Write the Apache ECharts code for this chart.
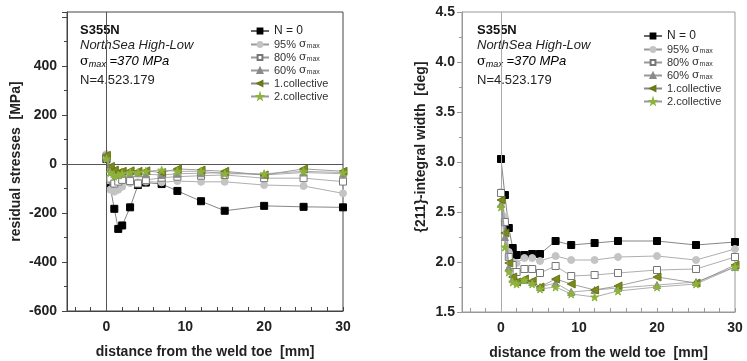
<!DOCTYPE html>
<html>
<head>
<meta charset="utf-8">
<script src="https://cdn.jsdelivr.net/npm/echarts@6/dist/echarts.min.js"></script>
<style>
  html, body { margin: 0; padding: 0; background: #fff; }
  #chart { width: 747px; height: 361px; }
</style>
</head>
<body>
<div id="chart"></div>
<script>
// distances from the weld toe [mm], shared by all series
const distances = [0, 0.5, 1, 1.5, 2, 3, 4, 5, 7, 9, 12, 15, 20, 25, 30];

const seriesNames = ['N = 0', '95% σmax', '80% σmax', '60% σmax', '1.collective', '2.collective'];

// residual stresses [MPa]
const stressN0  = [20, -97, -183, -265, -251, -177, -86, -76, -82, -110, -152, -191, -171, -175, -177];
const stress95  = [40, -105, -113, -105, -93, -78, -75, -72, -75, -70, -73, -73, -86, -90, -120];
const stress80  = [30, -60, -80, -72, -65, -70, -80, -66, -56, -52, -48, -45, -58, -58, -72];
const stress60  = [25, -20, -40, -45, -40, -40, -38, -42, -45, -40, -38, -35, -45, -35, -40];
const stress1c  = [35, -10, -25, -35, -30, -28, -30, -28, -35, -20, -25, -30, -45, -20, -30];
const stress2c  = [20, -35, -50, -45, -40, -35, -35, -30, -25, -30, -30, -40, -40, -30, -35];

// {211}-integral width [deg]
const widthN0 = [3.03, 2.67, 2.34, 2.14, 2.07, 2.07, 2.08, 2.08, 2.21, 2.17, 2.19, 2.21, 2.21, 2.17, 2.20];
const width95 = [2.70, 2.45, 2.10, 2.00, 1.99, 2.04, 2.04, 2.01, 2.06, 2.02, 2.02, 2.05, 2.06, 2.02, 2.13];
const width80 = [2.69, 2.40, 2.05, 1.97, 1.90, 1.93, 1.93, 1.89, 1.96, 1.86, 1.87, 1.89, 1.92, 1.93, 2.05];
const width60 = [2.58, 2.25, 1.95, 1.83, 1.81, 1.82, 1.80, 1.75, 1.79, 1.70, 1.72, 1.74, 1.77, 1.80, 1.95];
const width1c = [2.62, 2.29, 1.99, 1.85, 1.80, 1.83, 1.81, 1.75, 1.83, 1.78, 1.72, 1.76, 1.85, 1.79, 1.97];
const width2c = [2.55, 2.15, 1.90, 1.80, 1.78, 1.82, 1.78, 1.73, 1.75, 1.68, 1.65, 1.71, 1.75, 1.78, 1.95];

// tick labels
const xLabels = [0, 10, 20, 30];
const xTicks = [-4, -2, 0, 2, 4, 6, 8, 10, 12, 14, 16, 18, 20, 22, 24, 26, 28, 30];

const FONT = 'Liberation Sans, Arial, sans-serif';
const STAR = 'path://M50,0 L61,35 L98,35 L68,57 L79,91 L50,70 L21,91 L32,57 L2,35 L39,35 Z';

// marker look per series
const markers = [
  { symbol: 'rect', size: 7, fill: '#000', border: '#000', line: '#666' },
  { symbol: 'circle', size: 7, fill: '#c4c4c4', border: '#c4c4c4', line: '#999' },
  { symbol: 'rect', size: 7, fill: '#fff', border: '#777', line: '#999' },
  { symbol: 'triangle', size: 7, fill: '#8a8a8a', border: '#8a8a8a', line: '#999' },
  { symbol: 'triangle', size: 8, fill: '#7a8a1c', border: '#6a7814', line: '#888', rotate: 90 },
  { symbol: STAR, size: 8, fill: '#8db43a', border: '#8db43a', line: '#999' }
];

function makeSeries(values, idx, axisIdx) {
  const m = markers[idx];
  return {
    name: seriesNames[idx],
    type: 'line',
    xAxisIndex: axisIdx,
    yAxisIndex: axisIdx,
    data: distances.map((d, i) => [d, values[i]]),
    symbol: m.symbol,
    symbolSize: m.size,
    symbolRotate: m.rotate || 0,
    itemStyle: { color: m.fill, borderColor: m.border, borderWidth: 1 },
    lineStyle: { color: m.line, width: 0.8 },
    z: 3 + idx
  };
}

const labelFmt = name => {
  if (name === 'N = 0') return '{n|N = 0}';
  return name.replace('σmax', '{g|σ}{sub|max}');
};

const legendBase = {
  orient: 'vertical',
  padding: 0,
  itemWidth: 18,
  itemHeight: 6,
  itemGap: 2,
  data: seriesNames,
  formatter: labelFmt,
  textStyle: {
    fontFamily: FONT, fontSize: 11, color: '#333', lineHeight: 11,
    rich: {
      n: { fontSize: 12, lineHeight: 11, fontFamily: FONT, color: '#222' },
      g: { fontSize: 11, lineHeight: 11, fontFamily: 'DejaVu Serif', color: '#333' },
      sub: { fontSize: 7, lineHeight: 11, color: '#333', verticalAlign: 'bottom' }
    }
  }
};

const axisLabelStyle = { fontFamily: FONT, fontSize: 14, fontWeight: 'bold', color: '#222' };

function makeXAxis(gridIndex, lineColor) {
  return {
    type: 'value', gridIndex: gridIndex, min: -5, max: 30,
    name: 'distance from the weld toe  [mm]',
    nameLocation: 'middle', nameGap: 34,
    nameTextStyle: { fontFamily: FONT, fontSize: 14, fontWeight: 'bold', color: '#222' },
    axisLine: { onZero: false, lineStyle: { color: lineColor } },
    axisTick: { inside: true, length: 4, customValues: xTicks, lineStyle: { color: lineColor } },
    axisLabel: Object.assign({ customValues: xLabels, margin: 9 }, axisLabelStyle),
    splitLine: { show: false }
  };
}

function annotation(left) {
  return [
    { type: 'text', left: left, top: 24, style: { text: 'S355N', font: 'bold 13px ' + FONT, fill: '#111' } },
    { type: 'text', left: left, top: 39, style: { text: 'NorthSea High-Low', font: 'italic 13px ' + FONT, fill: '#222' } },
    { type: 'text', left: left, top: 55, style: {
      text: '{g|σ}{s|max}{t| =370 MPa}',
      rich: {
        g: { fontSize: 13, fontFamily: 'DejaVu Serif', color: '#222' },
        s: { fontSize: 9, fontStyle: 'italic', fontFamily: FONT, color: '#222', padding: [6, 0, 0, 0] },
        t: { fontSize: 13, fontStyle: 'italic', fontFamily: FONT, color: '#222' }
      }
    } },
    { type: 'text', left: left, top: 74, style: { text: 'N=4.523.179', font: '13px ' + FONT, fill: '#222' } }
  ];
}

const leftSeries = [stressN0, stress95, stress80, stress60, stress1c, stress2c].map((v, i) => makeSeries(v, i, 0));
const rightSeries = [widthN0, width95, width80, width60, width1c, width2c].map((v, i) => makeSeries(v, i, 1));

// zero lines through the origin
leftSeries[0].markLine = {
  silent: true, symbol: 'none', label: { show: false }, animation: false,
  lineStyle: { color: '#555', width: 1, type: 'solid' },
  data: [{ xAxis: 0 }, { yAxis: 0 }]
};
rightSeries[0].markLine = {
  silent: true, symbol: 'none', label: { show: false }, animation: false,
  lineStyle: { color: '#aaa', width: 1, type: 'solid' },
  data: [{ xAxis: 0 }]
};

const chart = echarts.init(document.getElementById('chart'), null, { renderer: 'canvas' });

chart.setOption({
  animation: false,
  backgroundColor: '#fff',
  grid: [
    { left: 67, top: 12, width: 276, height: 299, outerBoundsMode: 'none', show: true, borderColor: '#444', borderWidth: 1 },
    { left: 462, top: 12, width: 273, height: 300, outerBoundsMode: 'none', show: true, borderColor: '#999', borderWidth: 1 }
  ],
  xAxis: [makeXAxis(0, '#444'), makeXAxis(1, '#999')],
  yAxis: [
    {
      type: 'value', gridIndex: 0, min: -600, max: 620, interval: 200,
      name: 'residual stresses  [MPa]', nameLocation: 'middle', nameGap: 44,
      nameTextStyle: { fontFamily: FONT, fontSize: 14, fontWeight: 'bold', color: '#222' },
      axisLine: { onZero: false, lineStyle: { color: '#444' } },
      axisTick: { length: 5, lineStyle: { color: '#444' } },
      minorTick: { show: true, splitNumber: 2, length: 3, lineStyle: { color: '#444' } },
      axisLabel: Object.assign({ margin: 10, formatter: v => (v > 400 ? '' : String(v)) }, axisLabelStyle),
      splitLine: { show: false }
    },
    {
      type: 'value', gridIndex: 1, min: 1.5, max: 4.5, interval: 0.5,
      name: '{211}-integral width  [deg]', nameLocation: 'middle', nameGap: 34,
      nameTextStyle: { fontFamily: FONT, fontSize: 14, fontWeight: 'bold', color: '#222', padding: [0, 0, 0, 30] },
      axisLine: { onZero: false, lineStyle: { color: '#999' } },
      axisTick: { length: 5, lineStyle: { color: '#999' } },
      minorTick: { show: true, splitNumber: 2, length: 3, lineStyle: { color: '#999' } },
      axisLabel: Object.assign({ margin: 7, formatter: v => v.toFixed(1) }, axisLabelStyle),
      splitLine: { show: false }
    }
  ],
  legend: [
    Object.assign({ left: 250, top: 25 }, legendBase),
    Object.assign({ left: 643, top: 30 }, legendBase)
  ],
  graphic: annotation(80).concat(annotation(477)),
  series: leftSeries.concat(rightSeries)
});
</script>
</body>
</html>
